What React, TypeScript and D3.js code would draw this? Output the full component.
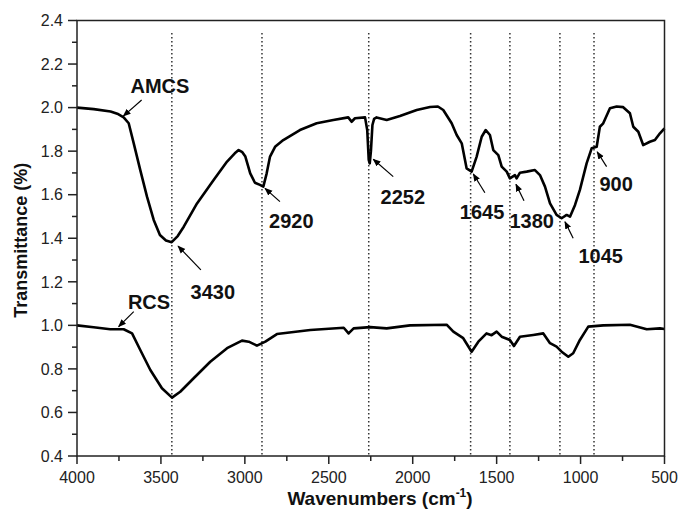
import React from "react";
import * as d3 from "d3";

const amcsWn = [4000,3900,3800,3760,3722,3692,3662,3623,3583,3543,3506,3470,3436,3400,3364,3285,3186,3106,3060,3037,3015,2997,2968,2940,2910,2890,2870,2850,2820,2771,2672,2572,2473,2384,2364,2344,2284,2271,2262,2256,2249,2240,2230,2215,2155,2076,1976,1897,1850,1818,1768,1738,1708,1679,1649,1619,1589,1565,1540,1520,1490,1470,1440,1421,1391,1381,1361,1321,1272,1242,1212,1182,1143,1113,1083,1063,1033,1004,964,934,904,885,865,825,785,746,706,686,656,627,587,557,527,500];
const amcsT = [2.0,1.993,1.982,1.972,1.955,1.928,1.836,1.713,1.591,1.484,1.415,1.39,1.382,1.41,1.453,1.56,1.667,1.752,1.79,1.805,1.795,1.775,1.698,1.655,1.645,1.637,1.698,1.775,1.82,1.851,1.897,1.928,1.943,1.955,1.935,1.951,1.955,1.897,1.76,1.744,1.8,1.92,1.948,1.955,1.943,1.961,1.989,2.003,2.005,1.989,1.928,1.874,1.836,1.721,1.706,1.775,1.866,1.897,1.874,1.805,1.782,1.729,1.706,1.675,1.69,1.675,1.701,1.706,1.713,1.69,1.637,1.56,1.507,1.492,1.507,1.499,1.553,1.622,1.744,1.813,1.82,1.912,1.928,1.997,2.005,2.002,1.974,1.912,1.889,1.828,1.843,1.851,1.882,1.905];

const rcsWn = [4000,3901,3802,3722,3672,3623,3563,3494,3434,3385,3305,3206,3106,3017,2977,2928,2878,2809,2610,2411,2382,2352,2253,2155,2016,1798,1758,1699,1649,1609,1560,1530,1500,1470,1421,1397,1361,1282,1222,1182,1143,1113,1073,1044,1004,954,865,706,606,527,500];
const rcsT = [1.0,0.991,0.982,0.982,0.963,0.887,0.795,0.711,0.668,0.695,0.757,0.833,0.895,0.93,0.925,0.907,0.925,0.96,0.979,0.989,0.963,0.986,0.992,0.986,1.0,1.003,0.971,0.941,0.879,0.925,0.963,0.955,0.971,0.948,0.933,0.905,0.948,0.956,0.963,0.918,0.902,0.879,0.856,0.872,0.933,0.994,1.0,1.003,0.982,0.986,0.983];

const guideWn = [3435, 2898, 2262, 1655, 1421, 1123, 920];
const guideTop = 2.343;

const labelText = ["AMCS", "RCS", "3430", "2920", "2252", "1645", "1380", "1045", "900"];
const labelWn = [3506, 3571, 3191, 2723, 2059, 1587, 1291, 880, 788];
const labelT = [2.068, 1.075, 1.123, 1.446, 1.557, 1.487, 1.446, 1.286, 1.618];
const arrowFromWn = [3615, 3662, 3262, 2791, 2116, 1570, 1337, 1044, 845];
const arrowFromT = [2.035, 1.063, 1.255, 1.568, 1.683, 1.609, 1.572, 1.4, 1.729];
const arrowToWn = [3724, 3752, 3398, 2880, 2235, 1639, 1385, 1093, 901];
const arrowToT = [1.961, 0.994, 1.364, 1.629, 1.763, 1.695, 1.648, 1.476, 1.797];

const xMajor = [4000, 3500, 3000, 2500, 2000, 1500, 1000, 500];
const xMinor = [3750, 3250, 2750, 2250, 1750, 1250, 750];
const yMajor = [0.4, 0.6, 0.8, 1.0, 1.2, 1.4, 1.6, 1.8, 2.0, 2.2, 2.4];
const yMinor = [0.5, 0.7, 0.9, 1.1, 1.3, 1.5, 1.7, 1.9, 2.1, 2.3];

const W = 678, H = 512;
const m = { left: 77, right: 13.5, top: 20.5, bottom: 56 };

export default function App() {
  const x = d3.scaleLinear().domain([4000, 500]).range([m.left, W - m.right]);
  const y = d3.scaleLinear().domain([0.4, 2.4]).range([H - m.bottom, m.top]);
  const line = d3.line<[number, number]>().x(d => x(d[0])).y(d => y(d[1]));
  const amcs = amcsWn.map((w, i) => [w, amcsT[i]] as [number, number]);
  const rcs = rcsWn.map((w, i) => [w, rcsT[i]] as [number, number]);
  const axisColor = "#222";
  const font = "'Liberation Sans', Arial, sans-serif";
  const x0 = m.left, x1 = W - m.right, y0 = H - m.bottom, y1 = m.top;
  return (
    <svg width={W} height={H} style={{ position: "absolute", left: 0, top: 0, background: "#fff" }} fontFamily={font}>
      <defs>
        <marker id="ah" viewBox="0 0 10 10" refX="9" refY="5" markerWidth="8" markerHeight="8" orient="auto" markerUnits="userSpaceOnUse">
          <path d="M0,1 L10,5 L0,9 Z" fill="#000" />
        </marker>
      </defs>
      {guideWn.map((w, i) => (
        <line key={"g" + i} x1={x(w)} x2={x(w)} y1={y(guideTop)} y2={y0} stroke="#333" strokeWidth={1.5} strokeDasharray="1.5 2.5" />
      ))}
      <path d={line(amcs) || ""} fill="none" stroke="#000" strokeWidth={2.6} strokeLinejoin="round" />
      <path d={line(rcs) || ""} fill="none" stroke="#000" strokeWidth={2.6} strokeLinejoin="round" />
      <rect x={x0} y={y1} width={x1 - x0} height={y0 - y1} fill="none" stroke={axisColor} strokeWidth={1.5} />
      {yMajor.map((v, i) => (
        <g key={"ym" + i}>
          <line x1={x0 - 9} x2={x0} y1={y(v)} y2={y(v)} stroke={axisColor} strokeWidth={1.5} />
          <text x={x0 - 14} y={y(v)} dy="0.36em" textAnchor="end" fontSize={16} fill="#222">{v.toFixed(1)}</text>
        </g>
      ))}
      {yMinor.map((v, i) => (
        <line key={"yn" + i} x1={x0 - 5} x2={x0} y1={y(v)} y2={y(v)} stroke={axisColor} strokeWidth={1.5} />
      ))}
      {xMajor.map((w, i) => (
        <g key={"xm" + i}>
          <line x1={x(w)} x2={x(w)} y1={y0} y2={y0 + 8} stroke={axisColor} strokeWidth={1.5} />
          <text x={x(w)} y={y0 + 26.5} textAnchor="middle" fontSize={16} fill="#222">{w}</text>
        </g>
      ))}
      {xMinor.map((w, i) => (
        <line key={"xn" + i} x1={x(w)} x2={x(w)} y1={y0} y2={y0 + 5} stroke={axisColor} strokeWidth={1.5} />
      ))}
      {labelText.map((t, i) => (
        <g key={"l" + i}>
          <line x1={x(arrowFromWn[i])} y1={y(arrowFromT[i])} x2={x(arrowToWn[i])} y2={y(arrowToT[i])} stroke="#000" strokeWidth={1.2} markerEnd="url(#ah)" />
          <text x={x(labelWn[i])} y={y(labelT[i])} textAnchor="middle" fontSize={20} fontWeight="bold" fill="#111">{t}</text>
        </g>
      ))}
      <text transform={`translate(27,${(y0 + y1) / 2 + 2}) rotate(-90)`} textAnchor="middle" fontSize={18} fontWeight="bold" fill="#111">Transmittance (%)</text>
      <text x={380} y={505} textAnchor="middle" fontSize={19} fontWeight="bold" fill="#111">
        Wavenumbers (cm<tspan fontSize={12} dy={-8}>-1</tspan><tspan dy={8}>)</tspan>
      </text>
    </svg>
  );
}
